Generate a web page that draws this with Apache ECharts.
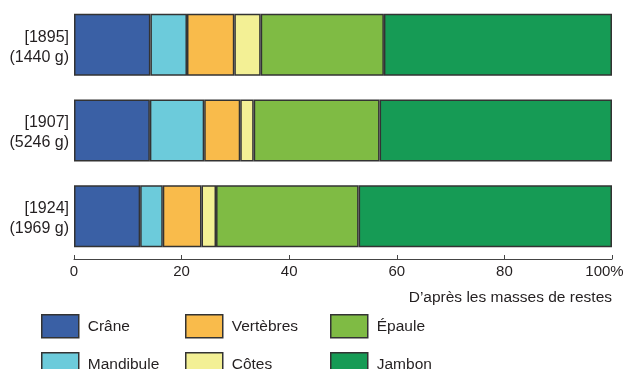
<!DOCTYPE html>
<html><head><meta charset="utf-8">
<script src="https://cdn.jsdelivr.net/npm/echarts@6/dist/echarts.min.js"></script>
<style>html,body{margin:0;padding:0;background:#fff}#c{width:624px;height:369px}</style>
</head><body><div id="c"></div>
<script>
// ---- data ----
const years = ['1895', '1907', '1924'];
const masses = ['1440 g', '5246 g', '1969 g'];
const seriesNames = ['Crâne', 'Mandibule', 'Vertèbres', 'Côtes', 'Épaule', 'Jambon'];
const crane = [14.2, 14.1, 12.3];
const mandibule = [6.8, 10.1, 4.2];
const vertebres = [8.8, 6.7, 7.2];
const cotes = [4.9, 2.5, 2.7];
const epaule = [22.9, 23.4, 26.5];
const jambon = [42.4, 43.2, 47.1];
const xTickLabels = ['0', '20', '40', '60', '80', '100%'];
const note = 'D’après les masses de restes';

// ---- styles ----
const colors = ['#3a60a5', '#6ccbdb', '#f9bb4b', '#f3f095', '#7fbb44', '#169b55'];
const FONT = "'Liberation Sans', Arial, sans-serif";
const TXT = '#231f20';
const values = [crane, mandibule, vertebres, cotes, epaule, jambon];
const categories = years.map((y, i) => '[' + y + ']\n(' + masses[i] + ')');
const legendPos = [[41, 314], [41, 352], [185, 314], [185, 352], [330, 314], [330, 352]];

const chart = echarts.init(document.getElementById('c'), null, {renderer: 'canvas'});
chart.setOption({
  animation: false,
  textStyle: {fontFamily: FONT},
  title: {
    text: note, right: 12, top: 290, padding: 0,
    textStyle: {fontSize: 15.5, fontWeight: 'normal', color: TXT, fontFamily: FONT}
  },
  legend: seriesNames.map((n, i) => ({
    data: [n], left: legendPos[i][0], top: legendPos[i][1], padding: 0,
    itemWidth: 37, itemHeight: 23, icon: 'rect', selectedMode: false,
    itemStyle: {borderColor: '#333', borderWidth: 1.5},
    textStyle: {fontSize: 15.5, color: TXT, fontFamily: FONT, padding: [0, 0, 0, 4]}
  })),
  grid: {left: 74, right: 12, top: 2, height: 257, outerBoundsMode: 'none', containLabel: false},
  xAxis: {
    type: 'value', min: 0, max: 100, interval: 20,
    axisLine: {show: true, lineStyle: {color: '#444', width: 1}},
    axisTick: {show: true, inside: true, length: 4, lineStyle: {color: '#444'}},
    splitLine: {show: false},
    axisLabel: {
      margin: 5, fontSize: 15, color: TXT, fontFamily: FONT,
      formatter: v => {
        const s = xTickLabels[Math.round(v / 20)];
        return v === 100 ? '{r|' + s + '}' : s;
      },
      rich: {r: {fontSize: 15, color: TXT, fontFamily: FONT, padding: [0, 15, 0, 0]}}
    }
  },
  yAxis: {
    type: 'category', inverse: true, data: categories,
    axisLine: {show: false}, axisTick: {show: false},
    axisLabel: {
      margin: 5, color: TXT, fontFamily: FONT,
      formatter: v => {
        const p = v.split('\n');
        return '{s| }\n{t|' + p[0] + '}\n{t|' + p[1] + '}';
      },
      rich: {
        s: {fontSize: 1, lineHeight: 5},
        t: {fontSize: 16, lineHeight: 20, color: TXT, fontFamily: FONT, align: 'right'}
      }
    }
  },
  series: seriesNames.map((n, i) => ({
    name: n, type: 'bar', stack: 'total', barWidth: 62,
    data: values[i],
    itemStyle: {color: colors[i], borderColor: '#333', borderWidth: 1.5},
    emphasis: {disabled: true}
  }))
});
</script></body></html>
